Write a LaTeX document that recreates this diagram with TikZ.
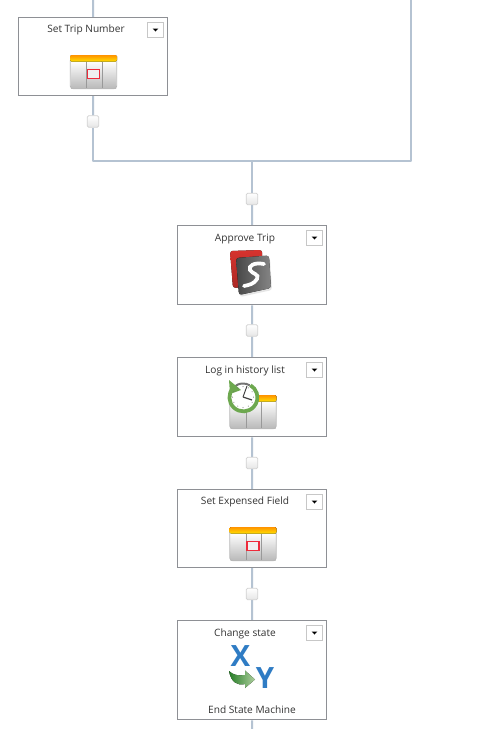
\documentclass[tikz,border=0pt]{standalone}
\usepackage{fontspec}
\setmainfont{Open Sans}
\usetikzlibrary{backgrounds,calc}
\definecolor{wire}{HTML}{B5C3D2}
\definecolor{boxline}{HTML}{8E9095}
\definecolor{txt}{HTML}{333333}
\definecolor{xyblue}{HTML}{2F7CC4}
\definecolor{hgreen}{HTML}{6DA84F}
\definecolor{ired}{HTML}{D6332E}
\definecolor{cellred}{HTML}{EE2B3B}
\tikzset{
  x=0.75pt,y=-0.75pt,
  wire/.style={draw=wire,line width=1.5pt},
  action/.style={draw=boxline,line width=0.75pt,fill=white,minimum width=111.6pt,inner sep=0pt,anchor=north west,rectangle},
  junction/.style={draw=black!18,line width=0.6pt,top color=white,bottom color=black!10,rounded corners=1pt,minimum size=8.6pt,inner sep=0pt,rectangle},
  menu/.style={draw=black!22,line width=0.6pt,fill=white,minimum size=11.6pt,inner sep=0pt,rectangle},
  caption/.style={font=\fontsize{7.6pt}{9pt}\selectfont,text=txt,inner sep=0pt,anchor=center},
  glyph/.style={font=\fontsize{22pt}{23pt}\selectfont\bfseries,text=xyblue,inner sep=0pt},
  cell/.style={top color=white,bottom color=black!27,draw=none},
}
% table icon: #1 = left x, #2 = top y, #3 = red cell
\newcommand{\tableicon}[3]{%
  \begin{scope}[shift={(#1,#2)}]
    \fill[cell] (1,6) rectangle (16,33);
    \fill[cell] (17,6) rectangle (31.5,33);
    \fill[cell] (32.5,6) rectangle (46,33);
    \draw[draw=black!28,line width=0.6pt,rounded corners=2pt] (0.3,3) rectangle (46.7,33.6);
    \fill[top color=orange!85!yellow,bottom color=yellow!75!orange,rounded corners=1pt] (0,0) rectangle (47,6.5);
    \draw[black!40,line width=0.55pt] (16.5,7) -- (16.5,33) (32,7) -- (32,33);
    \ifnum#3=1
      \draw[draw=cellred,line width=1.3pt,fill=black!6] (17.5,14.4) rectangle (29.5,23.4);
    \fi
  \end{scope}}
\begin{document}
\begin{tikzpicture}
\useasboundingbox (0,0) rectangle (493,729);
% boxes
\node[action,minimum height=58.4pt] (trip) at (18.2,17.3) {};
\node[action,minimum height=59.3pt] (approve) at (177.4,225.2) {};
\node[action,minimum height=59.3pt] (log) at (177.4,357.2) {};
\node[action,minimum height=58.4pt] (expensed) at (177.4,489.2) {};
\node[action,minimum height=74.4pt] (state) at (177.4,620.2) {};
% junctions
\node[junction] (j1) at (93,121.5) {};
\node[junction] (j2) at (252,199) {};
\node[junction] (j3) at (252,330.5) {};
\node[junction] (j4) at (252,463) {};
\node[junction] (j5) at (252,594) {};
% free ends
\coordinate (topL) at (93,0);
\coordinate (topR) at (411,0);
\coordinate (cornerL) at (93,161);
\coordinate (cornerR) at (411,161);
\coordinate (merge) at (252,161);
\coordinate (bottom) at (252,729);
\begin{pgfonlayer}{background}
  \fill[white] (0,0) rectangle (493,729);
  \draw[wire] (topL) -- (trip);
  \draw[wire] (trip) -- (j1);
  \draw[wire,line join=round] (j1) -- (cornerL) -- (cornerR) -- (topR);
  \draw[wire] (merge) -- (j2);
  \draw[wire] (j2) -- (approve);
  \draw[wire] (approve) -- (j3);
  \draw[wire] (j3) -- (log);
  \draw[wire] (log) -- (j4);
  \draw[wire] (j4) -- (expensed);
  \draw[wire] (expensed) -- (j5);
  \draw[wire] (j5) -- (state);
  \draw[wire] (state) -- (bottom);
\end{pgfonlayer}
% captions
\node[caption] (t1) at (86,30) {Set Trip Number};
\node[caption] (t2) at (245,239) {Approve Trip};
\node[caption] (t3) at (245,371) {Log in history list};
\node[caption] (t4) at (245,502) {Set Expensed Field};
\node[caption] (t5) at (245,634) {Change state};
\node[caption] (t6) at (252,710) {End State Machine};
% menus
\foreach \n/\px/\py in {m1/155.5/30,m2/314.5/238,m3/314.5/370,m4/314.5/502,m5/314.5/633}{
  \node[menu] (\n) at (\px,\py) {};
  \fill[black] ($(\n.center)+(-2.8,-1.4)$) -- ++(5.6,0) -- ++(-2.8,2.9) -- cycle;
}
% icons
\tableicon{70}{55}{1}
\tableicon{229.5}{527}{1}
\tableicon{229.5}{395}{0}
% S icon
\fill[rounded corners=2pt,top color=ired,bottom color=ired!80!black] (230,251) -- (262,250) -- (263,285) -- (233,288) -- cycle;
\fill[black!25,opacity=.4,rounded corners=2pt] (237,260) -- (270,258) -- (272,290) -- (240,297) -- cycle;
\fill[rounded corners=2pt,left color=black!72,right color=black!48] (236,258) -- (269,255.5) -- (271,288) -- (239,295) -- cycle;
\draw[white,line width=2.8pt,line cap=round] (264,264) .. controls (254,262) and (248,266) .. (250,270) .. controls (252,274) and (260,274) .. (257,279) .. controls (254,284) and (249,285) .. (244,286);
% history clock
\fill[white] (243,397) circle (14);
\draw[black!55,line width=1.5pt] (229.5,397) arc (180:300:13.5);
\draw[hgreen,line width=2.8pt] (233,388) arc (222:-60:14);
\fill[hgreen] (229,380) -- (241,390) -- (230,394) -- cycle;
\draw[black!75,line width=0.7pt] (243,397) -- (247,386);
\draw[black!75,line width=0.9pt] (243,397) -- (252,400);
\foreach \a in {0,30,...,330}{\fill[black!60] (243,397) ++(\a:10.5) circle (0.5);}
% X -> Y icon
\node[glyph] (gx) at (240.5,656) {X};
\node[glyph] (gy) at (265,678.5) {Y};
\fill[left color=green!40!black!85!white,right color=hgreen!55] (229,671) .. controls (233,675) and (238,676) .. (245,675) -- (245,670.5) -- (255,679.5) -- (245,688) -- (245,684) .. controls (237,686) and (231,682) .. (229,671) -- cycle;
\end{tikzpicture}
\end{document}
